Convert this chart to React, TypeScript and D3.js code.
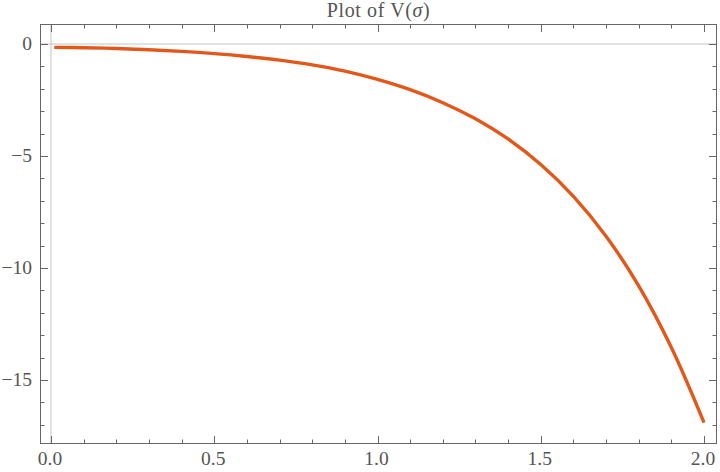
import React from 'react';
import * as d3 from 'd3';

// sigma values and V(sigma)
const sigma = [0.01, 0.1, 0.2, 0.3, 0.4, 0.5, 0.6, 0.7, 0.8, 0.9, 1.0, 1.1, 1.2, 1.3, 1.4, 1.5, 1.6, 1.7, 1.8, 1.9, 2.0];
const potential = [-0.15, -0.165, -0.2, -0.255, -0.33, -0.43, -0.56, -0.72, -0.93, -1.21, -1.58, -2.04, -2.62, -3.34, -4.24, -5.38, -6.8, -8.58, -10.8, -13.55, -16.9];

const xMajor = [0, 0.5, 1.0, 1.5, 2.0];
const xMinor = d3.range(0, 2.05, 0.1).map((v) => +v.toFixed(2));
const yMajor = [0, -5, -10, -15];
const yMinor = d3.range(0, -18, -1);

const ORANGE = '#E1581A';
const FRAME = '#666666';
const TEXT = '#555555';

const App = () => {
  const ref = React.useRef<SVGSVGElement>(null);

  React.useEffect(() => {
    document.body.style.margin = '0';
    const svg = d3.select(ref.current);
    svg.selectAll('*').remove();

    const left = 40, right = 717, top = 24, bottom = 444;

    const x = d3.scaleLinear().domain([0, 2]).range([51, 704]);
    const y = d3.scaleLinear().domain([0, -15]).range([44, 380]);

    // axis lines through the origin
    svg.append('line')
      .attr('x1', left).attr('x2', right)
      .attr('y1', y(0)).attr('y2', y(0))
      .attr('stroke', '#c4c4c4').attr('stroke-width', 1);
    svg.append('line')
      .attr('x1', x(0)).attr('x2', x(0))
      .attr('y1', top).attr('y2', bottom)
      .attr('stroke', '#c4c4c4').attr('stroke-width', 1);

    // curve
    const data = sigma.map((s, i) => [s, potential[i]] as [number, number]);
    const line = d3.line<[number, number]>()
      .x((d) => x(d[0]))
      .y((d) => y(d[1]))
      .curve(d3.curveCatmullRom.alpha(0.5));
    svg.append('path')
      .datum(data)
      .attr('d', line)
      .attr('fill', 'none')
      .attr('stroke', ORANGE)
      .attr('stroke-width', 3.4)
      .attr('stroke-linejoin', 'round');

    // frame
    svg.append('rect')
      .attr('x', left + 0.5).attr('y', top + 0.5)
      .attr('width', right - left - 1).attr('height', bottom - top - 1)
      .attr('fill', 'none')
      .attr('stroke', FRAME).attr('stroke-width', 1);

    const ticks = svg.append('g').attr('stroke', FRAME).attr('stroke-width', 1);
    const isMajorX = (v: number) => xMajor.some((m) => Math.abs(m - v) < 1e-6);
    xMinor.forEach((v) => {
      const len = isMajorX(v) ? 8 : 4.5;
      const px = Math.round(x(v)) + 0.5;
      ticks.append('line').attr('x1', px).attr('x2', px).attr('y1', bottom).attr('y2', bottom - len);
      ticks.append('line').attr('x1', px).attr('x2', px).attr('y1', top).attr('y2', top + len);
    });
    yMinor.forEach((v) => {
      const len = v % 5 === 0 ? 8 : 4.5;
      const py = Math.round(y(v)) + 0.5;
      ticks.append('line').attr('x1', left).attr('x2', left + len).attr('y1', py).attr('y2', py);
      ticks.append('line').attr('x1', right).attr('x2', right - len).attr('y1', py).attr('y2', py);
    });

    const font = '"Liberation Serif", "DejaVu Serif", serif';

    svg.append('g')
      .selectAll('text')
      .data(xMajor)
      .join('text')
      .attr('x', (d) => x(d) - 1)
      .attr('y', 465)
      .attr('text-anchor', 'middle')
      .attr('font-family', font)
      .attr('font-size', 19.5)
      .attr('fill', TEXT)
      .text((d) => d.toFixed(1));

    svg.append('g')
      .selectAll('text')
      .data(yMajor)
      .join('text')
      .attr('x', 32)
      .attr('y', (d) => y(d))
      .attr('dy', '0.33em')
      .attr('text-anchor', 'end')
      .attr('font-family', font)
      .attr('font-size', 19.5)
      .attr('fill', TEXT)
      .text((d) => (d < 0 ? '\u2212' + Math.abs(d) : String(d)));

    const title = svg.append('text')
      .attr('x', (left + right) / 2)
      .attr('y', 16.5)
      .attr('text-anchor', 'middle')
      .attr('font-family', font)
      .attr('font-size', 20)
      .attr('letter-spacing', 0.6)
      .attr('fill', TEXT);
    title.append('tspan').text('Plot of V(');
    title.append('tspan').attr('font-style', 'italic').text('\u03C3');
    title.append('tspan').text(')');
  }, []);

  return <svg ref={ref} width={720} height={472} style={{ display: 'block', background: '#fff' }} />;
};

export default App;
